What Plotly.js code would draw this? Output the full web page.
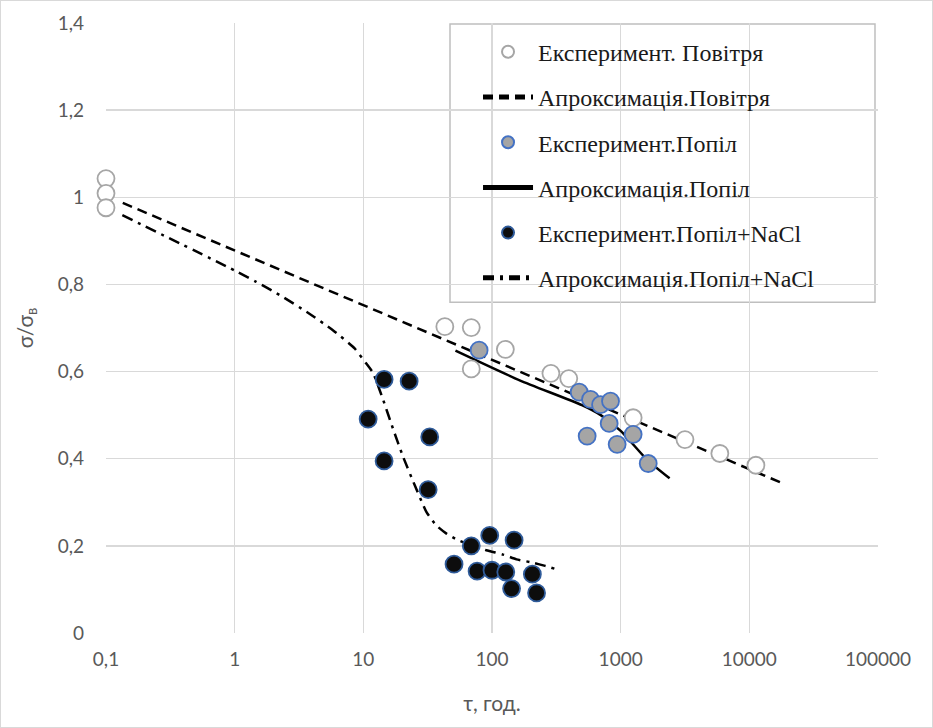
<!DOCTYPE html>
<html>
<head>
<meta charset="utf-8">
<script src="https://cdn.plot.ly/plotly-3.0.1.min.js"></script>
<style>
  html, body { margin: 0; padding: 0; background: #ffffff; }
  #chart { width: 933px; height: 728px; }
  #frame { position: absolute; left: 0; top: 0; width: 933px; height: 728px; box-sizing: border-box; border: 1px solid #d9d9d9; pointer-events: none; }
</style>
</head>
<body>
<div id="chart"></div>
<div id="frame"></div>
<script>
// ---- Data ----
const seriesNames = [
  "Експеримент. Повітря",
  "Апроксимація.Повітря",
  "Експеримент.Попіл",
  "Апроксимація.Попіл",
  "Експеримент.Попіл+NaCl",
  "Апроксимація.Попіл+NaCl"
];

const airExpX = [0.1, 0.1, 0.1, 43, 69, 69, 127, 287, 395, 1250, 3160, 5900, 11250];
const airExpY = [1.043, 1.009, 0.976, 0.703, 0.701, 0.606, 0.651, 0.596, 0.584, 0.494, 0.444, 0.412, 0.385];

const airFitX = [0.135, 18000];
const airFitY = [0.987, 0.344];

const ashExpX = [79.4, 476, 583, 698, 834, 814, 549, 939, 1250, 1637];
const ashExpY = [0.649, 0.553, 0.536, 0.524, 0.532, 0.481, 0.452, 0.433, 0.456, 0.389];

const ashFitX = [52, 164, 500, 700, 1000, 1600, 2400];
const ashFitY = [0.648, 0.580, 0.523, 0.500, 0.464, 0.398, 0.355];

const naclExpX = [14.5, 22.7, 10.9, 32.8, 14.5, 31.9, 96, 148.5, 69, 50.7, 76.6, 100, 128, 206, 142, 222];
const naclExpY = [0.582, 0.578, 0.491, 0.450, 0.395, 0.329, 0.224, 0.213, 0.200, 0.158, 0.142, 0.144, 0.140, 0.135, 0.102, 0.092];

const naclFitX = [0.134, 1, 1.47, 2.35, 3.71, 5.8, 8.56, 10.5, 11.9, 14.3, 17, 20.4, 25.1, 30.9, 36.9, 44.3, 54.7, 90.3, 122, 155, 203, 259, 336];
const naclFitY = [0.959, 0.832, 0.806, 0.772, 0.735, 0.695, 0.653, 0.619, 0.597, 0.534, 0.469, 0.404, 0.339, 0.278, 0.247, 0.228, 0.213, 0.190, 0.180, 0.169, 0.162, 0.154, 0.144];

const xTickVals = [0.1, 1, 10, 100, 1000, 10000, 100000];
const xTickText = ["0,1", "1", "10", "100", "1000", "10000", "100000"];
const yTickVals = [0, 0.2, 0.4, 0.6, 0.8, 1.0, 1.2, 1.4];
const yTickText = ["0", "0,2", "0,4", "0,6", "0,8", "1", "1,2", "1,4"];

const xTitle = "τ, год.";
const yTitle = "σ/σ<sub>в</sub>";

// ---- Traces ----
const lineW = 2.5;
const mSize = 17;

const traces = [
  { x: airFitX, y: airFitY, name: seriesNames[1], legendrank: 2, legendgroup: "g2", mode: "lines",
    line: { color: "#000000", width: lineW, dash: "10px,6px" } },
  { x: ashFitX, y: ashFitY, name: seriesNames[3], legendrank: 4, legendgroup: "g4", mode: "lines",
    line: { color: "#000000", width: lineW, shape: "spline", smoothing: 0.6 } },
  { x: naclFitX, y: naclFitY, name: seriesNames[5], legendrank: 6, legendgroup: "g6", mode: "lines",
    line: { color: "#000000", width: lineW, dash: "11px,6px,3px,6px", shape: "spline", smoothing: 0.5 } },
  { x: airExpX, y: airExpY, name: seriesNames[0], legendrank: 1, legendgroup: "g1", mode: "markers", cliponaxis: false,
    marker: { size: mSize, color: "#ffffff", line: { color: "#a6a6a6", width: 1.8 } } },
  { x: ashExpX, y: ashExpY, name: seriesNames[2], legendrank: 3, legendgroup: "g3", mode: "markers", cliponaxis: false,
    marker: { size: mSize, color: "#a5a5a5", line: { color: "#4472c4", width: 1.8 } } },
  { x: naclExpX, y: naclExpY, name: seriesNames[4], legendrank: 5, legendgroup: "g5", mode: "markers", cliponaxis: false,
    marker: { size: mSize, color: "#0d0d0d", line: { color: "#2f5b9a", width: 1.8 } } }
];

const tickFont = { family: "Lato, 'Open Sans', sans-serif", size: 19, color: "#595959" };
const titleFont = { family: "Lato, 'Open Sans', sans-serif", size: 21, color: "#595959" };

const layout = {
  width: 933,
  height: 728,
  margin: { l: 106, r: 55, t: 23, b: 95 },
  paper_bgcolor: "#ffffff",
  plot_bgcolor: "#ffffff",
  showlegend: true,
  xaxis: {
    type: "log",
    range: [-1, 5],
    tickmode: "array",
    tickvals: xTickVals,
    ticktext: xTickText,
    tickfont: tickFont,
    ticks: "",
    ticklabelstandoff: 13,
    showgrid: true,
    gridcolor: "#d9d9d9",
    gridwidth: 1.3,
    showline: false,
    zeroline: false,
    title: { text: xTitle, font: titleFont, standoff: 27 }
  },
  yaxis: {
    range: [0, 1.4],
    tickmode: "array",
    tickvals: yTickVals,
    ticktext: yTickText,
    tickfont: tickFont,
    ticks: "",
    ticklabelstandoff: 21,
    showgrid: true,
    gridcolor: "#d9d9d9",
    gridwidth: 1.3,
    showline: false,
    zeroline: false,
    title: { text: yTitle, font: titleFont, standoff: 18 }
  },
  shapes: [
    { type: "rect", xref: "paper", yref: "paper", x0: 0.4456, x1: 0.9961, y0: 0.5424, y1: 0.9984,
      fillcolor: "#ffffff", line: { color: "#bfbfbf", width: 1.5 }, layer: "below" }
  ],
  legend: {
    x: 0.4819,
    y: 0.989,
    xanchor: "left",
    yanchor: "top",
    bgcolor: "rgba(0,0,0,0)",
    borderwidth: 0,
    font: { family: "'Liberation Serif', 'Times New Roman', serif", size: 24, color: "#1a1a1a" },
    itemwidth: 50,
    itemsizing: "constant",
    tracegroupgap: 11
  }
};

Plotly.newPlot("chart", traces, layout, { displayModeBar: false, staticPlot: true });
</script>
</body>
</html>
